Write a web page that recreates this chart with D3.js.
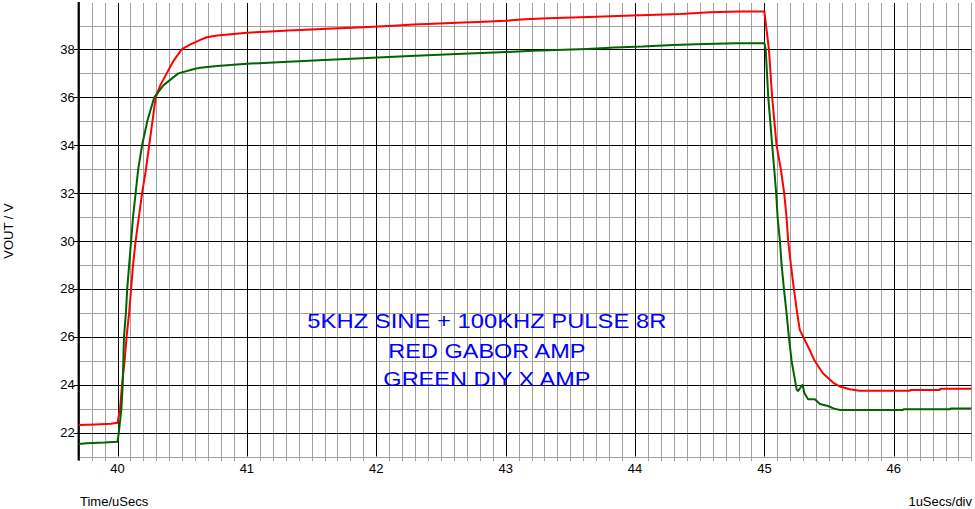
<!DOCTYPE html>
<html>
<head>
<meta charset="utf-8">
<script src="https://cdn.jsdelivr.net/npm/d3@7"></script>
<style>
  html, body { margin: 0; padding: 0; background: #fff; }
  svg { display: block; }
  text { font-family: "Liberation Sans", Arial, sans-serif; }
</style>
</head>
<body>
<svg id="chart" width="975" height="509"></svg>
<script>
// ---- data (time in µs, voltage in V) ----
const redTime = [39.70, 39.83, 39.95, 40.00, 40.02, 40.035, 40.055, 40.07, 40.09, 40.105, 40.12, 40.14, 40.165, 40.19, 40.22, 40.245, 40.27, 40.295, 40.33, 40.38, 40.43, 40.496, 40.56, 40.64, 40.69, 40.77, 41.00, 41.15, 41.32, 41.50, 41.66, 41.81, 41.98, 42.13, 42.29, 42.44, 42.62, 42.79, 43.00, 43.15, 43.33, 43.70, 43.92, 44.35, 44.58, 44.81, 45.00, 45.035, 45.06, 45.094, 45.127, 45.153, 45.171, 45.184, 45.205, 45.228, 45.253, 45.274, 45.30, 45.35, 45.385, 45.452, 45.537, 45.584, 45.66, 45.737, 46.124, 46.13, 46.356, 46.36, 46.60];
const redVolt = [22.32, 22.34, 22.37, 22.41, 23.0, 24.0, 25.0, 26.0, 27.0, 28.0, 29.0, 30.0, 31.0, 32.0, 33.0, 34.0, 35.0, 36.0, 36.5, 37.0, 37.5, 38.0, 38.2, 38.40, 38.51, 38.58, 38.70, 38.74, 38.79, 38.83, 38.87, 38.91, 38.95, 38.99, 39.04, 39.07, 39.11, 39.15, 39.20, 39.26, 39.30, 39.37, 39.41, 39.48, 39.55, 39.58, 39.58, 38.0, 36.0, 34.0, 33.0, 32.0, 31.0, 30.0, 29.0, 28.0, 27.0, 26.28, 26.0, 25.45, 25.03, 24.48, 24.06, 23.92, 23.81, 23.75, 23.75, 23.78, 23.78, 23.83, 23.83];

const greenTime = [39.70, 39.76, 39.90, 40.00, 40.01, 40.03, 40.04, 40.045, 40.05, 40.065, 40.075, 40.09, 40.105, 40.12, 40.14, 40.16, 40.19, 40.23, 40.284, 40.354, 40.47, 40.586, 40.64, 40.77, 41.00, 41.28, 41.60, 41.93, 42.26, 42.62, 42.96, 43.21, 43.63, 43.84, 44.06, 44.29, 44.54, 44.78, 45.00, 45.01, 45.03, 45.06, 45.076, 45.091, 45.102, 45.12, 45.133, 45.151, 45.171, 45.189, 45.21, 45.236, 45.25, 45.261, 45.275, 45.295, 45.31, 45.338, 45.39, 45.429, 45.491, 45.54, 45.584, 46.07, 46.075, 46.433, 46.44, 46.60];
const greenVolt = [21.52, 21.55, 21.58, 21.62, 22.0, 23.0, 24.0, 25.0, 26.0, 27.0, 28.0, 29.0, 30.0, 31.0, 32.0, 33.0, 34.0, 35.0, 36.0, 36.5, 37.0, 37.17, 37.24, 37.31, 37.40, 37.48, 37.56, 37.64, 37.73, 37.81, 37.88, 37.95, 38.02, 38.08, 38.12, 38.19, 38.23, 38.26, 38.26, 38.0, 36.0, 34.0, 33.0, 32.0, 31.0, 30.0, 29.0, 28.0, 27.0, 26.0, 25.0, 24.2, 23.78, 23.74, 23.85, 23.99, 23.64, 23.39, 23.39, 23.19, 23.11, 23.0, 22.94, 22.94, 22.97, 22.97, 23.0, 23.0];

const xMajorTicks = [40, 41, 42, 43, 44, 45, 46];
const yMajorTicks = [22, 24, 26, 28, 30, 32, 34, 36, 38];
const yMinorTicks = [21, 23, 25, 27, 29, 31, 33, 35, 37, 39];

const titleLines = ["5KHZ SINE + 100KHZ PULSE 8R", "RED GABOR AMP", "GREEN DIY X AMP"];
const xAxisLabel = "Time/uSecs";
const xScaleLabel = "1uSecs/div";
const yAxisLabel = "VOUT / V";

// ---- scales ----
const x = d3.scaleLinear().domain([39.7, 46.6]).range([78.7, 971.4]);
const y = d3.scaleLinear().domain([21, 39.94]).range([456.5, 3]);

const svg = d3.select("#chart");
const GRAY = "#a0a0a0";

// minor vertical grid (every 0.1 µs), extending below the bottom as ticks
const xMinor = d3.range(397, 467).map(d => d / 10).filter(d => Math.abs(d - Math.round(d)) > 1e-6);
svg.append("g").selectAll("line").data(xMinor).join("line")
  .attr("x1", d => Math.round(x(d)) + 0.5).attr("x2", d => Math.round(x(d)) + 0.5)
  .attr("y1", y(39.94)).attr("y2", y(21) + 4.5)
  .attr("stroke", GRAY).attr("stroke-width", 1);

// minor horizontal grid (odd volts)
svg.append("g").selectAll("line").data(yMinorTicks).join("line")
  .attr("x1", x(39.7)).attr("x2", x(46.6))
  .attr("y1", d => Math.round(y(d)) + 0.5).attr("y2", d => Math.round(y(d)) + 0.5)
  .attr("stroke", GRAY).attr("stroke-width", 1);

// major vertical grid
svg.append("g").selectAll("line").data(xMajorTicks).join("line")
  .attr("x1", d => Math.round(x(d)) + 0.5).attr("x2", d => Math.round(x(d)) + 0.5)
  .attr("y1", y(39.94)).attr("y2", y(21))
  .attr("stroke", "#000").attr("stroke-width", 1);

// major horizontal grid + left ticks
svg.append("g").selectAll("line").data(yMajorTicks).join("line")
  .attr("x1", x(39.7) - 5).attr("x2", x(46.6))
  .attr("y1", d => Math.round(y(d)) + 0.5).attr("y2", d => Math.round(y(d)) + 0.5)
  .attr("stroke", "#000").attr("stroke-width", 1);

// left axis (thick)
svg.append("line")
  .attr("x1", x(39.7)).attr("x2", x(39.7))
  .attr("y1", y(39.94) - 1).attr("y2", y(21) + 4)
  .attr("stroke", "#000").attr("stroke-width", 2.2);

// y tick labels
svg.append("g").selectAll("text").data(yMajorTicks).join("text")
  .attr("x", x(39.7) - 4).attr("y", d => y(d) + 4.6)
  .attr("text-anchor", "end").attr("font-size", 13).attr("fill", "#000")
  .text(d => d);

// x tick labels
svg.append("g").selectAll("text").data(xMajorTicks).join("text")
  .attr("x", d => x(d)).attr("y", y(21) + 16.5)
  .attr("text-anchor", "middle").attr("font-size", 13).attr("fill", "#000")
  .text(d => d);

// axis titles
svg.append("text").attr("x", 80).attr("y", 505.5)
  .attr("font-size", 13).attr("fill", "#000").text(xAxisLabel);
svg.append("text").attr("x", 972).attr("y", 505.5).attr("text-anchor", "end")
  .attr("font-size", 13).attr("fill", "#000").text(xScaleLabel);
svg.append("text").attr("transform", "translate(13,231) rotate(-90)")
  .attr("text-anchor", "middle").attr("font-size", 13).attr("fill", "#000").text(yAxisLabel);

// annotation text (positioned in data coordinates)
const titleY = [26.37, 25.13, 23.93];
const titleW = [359, 197, 207];
svg.append("g").selectAll("text").data(titleLines).join("text")
  .attr("x", x(42.855)).attr("y", (d, i) => y(titleY[i]))
  .attr("text-anchor", "middle").attr("font-size", 21).attr("fill", "#0000ff")
  .attr("textLength", (d, i) => titleW[i]).attr("lengthAdjust", "spacingAndGlyphs")
  .text(d => d);

// series
const line = d3.line().x(d => x(d[0])).y(d => y(d[1]));
const redData = redTime.map((t, i) => [t, redVolt[i]]);
const greenData = greenTime.map((t, i) => [t, greenVolt[i]]);

svg.append("path").datum(redData).attr("d", line)
  .attr("fill", "none").attr("stroke", "#ff0000").attr("stroke-width", 2).attr("stroke-linejoin", "round");
svg.append("path").datum(greenData).attr("d", line)
  .attr("fill", "none").attr("stroke", "#006400").attr("stroke-width", 2).attr("stroke-linejoin", "round");
</script>
</body>
</html>
